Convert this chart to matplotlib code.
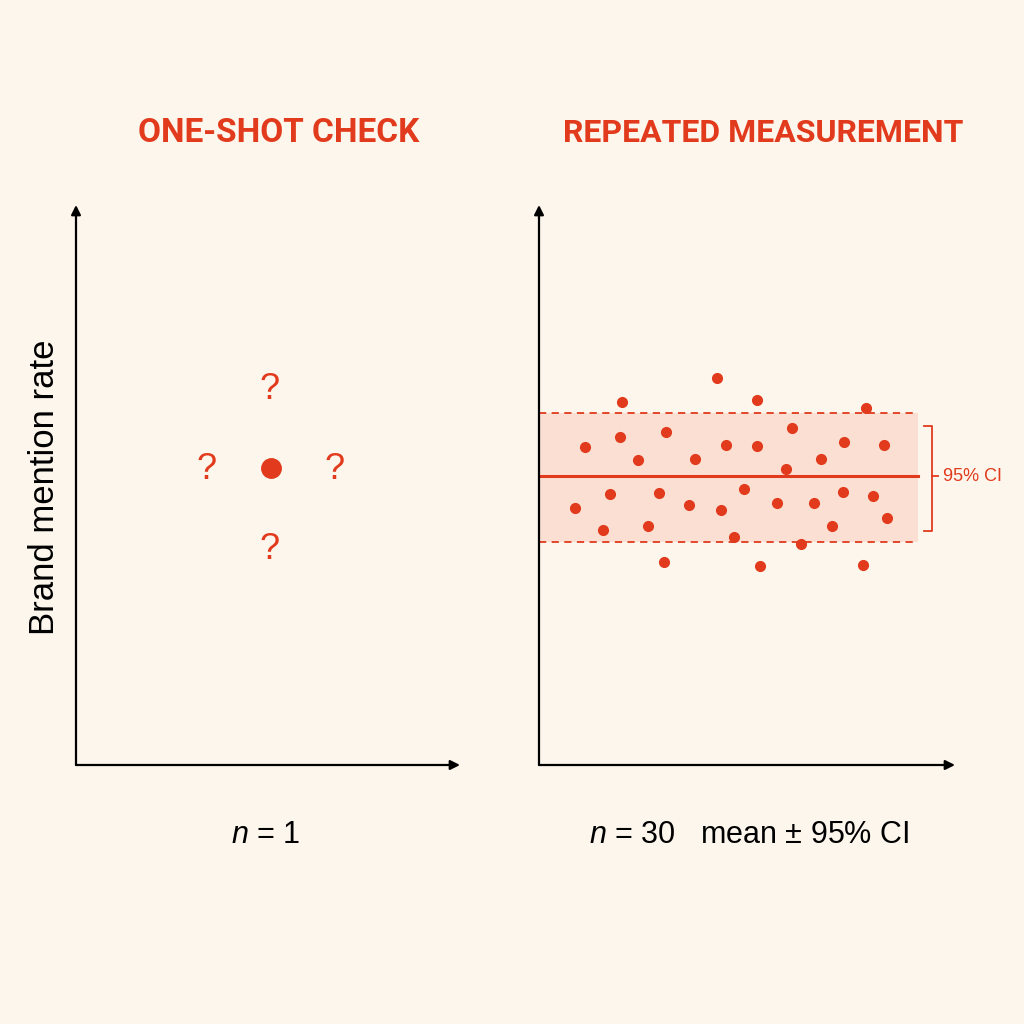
#!/usr/bin/env python3

import matplotlib
matplotlib.use("Agg")
from matplotlib import pyplot as plt

# repeated measurement: trial position (0-100) and brand mention rate (0-100)
rep_x = [42.9, 20.0, 52.5, 78.6, 60.7, 11.1, 19.5, 30.6, 23.9, 37.5, 45.0, 52.3,
         73.3, 83.0, 67.8, 59.4, 17.1, 28.9, 49.3, 73.0, 80.4, 8.6, 36.1, 43.8,
         57.2, 66.0, 83.7, 15.4, 26.3, 46.9, 70.4, 63.1, 30.1, 53.1, 78.0]
rep_y = [69.1, 64.8, 65.2, 63.7, 60.2, 56.7, 58.5, 59.4, 54.5, 54.7, 57.1, 57.0,
         57.6, 57.1, 54.7, 52.8, 48.4, 48.5, 49.2, 48.8, 48.1, 45.9, 46.4, 45.5,
         46.7, 46.8, 44.1, 41.9, 42.6, 40.8, 42.7, 39.4, 36.2, 35.5, 35.7]
mean_rate = 51.6
ci_low = 39.8
ci_high = 62.9

# one-shot check
single_x = [50.8]
single_y = [53.0]
unknown_x = [50.5, 34.1, 67.4, 50.5]
unknown_y = [67.0, 52.7, 52.7, 38.4]

RED = "#E13A1C"
BG = "#FDF6EC"
BAND = "#FBDFD2"
TITLE_FONT = ["Roboto", "DejaVu Sans"]
TEXT_FONT = ["Liberation Sans", "DejaVu Sans"]

plt.rcParams["mathtext.fontset"] = "custom"
plt.rcParams["mathtext.it"] = "Liberation Sans:italic"
plt.rcParams["mathtext.rm"] = "Liberation Sans"


def draw_axes(ax):
    ax.set_xlim(0, 100)
    ax.set_ylim(0, 100)
    ax.axis("off")
    ax.set_facecolor("none")
    arrow = dict(arrowstyle="-|>", color="black", lw=1.6, mutation_scale=14,
                 shrinkA=0, shrinkB=0)
    ax.annotate("", xy=(0, 1), xytext=(0, 0), xycoords="axes fraction",
                arrowprops=arrow)
    ax.annotate("", xy=(1, 0), xytext=(0, 0), xycoords="axes fraction",
                arrowprops=arrow)


def main():
    fig = plt.figure(figsize=(10.24, 10.24), dpi=100, facecolor=BG)

    ax1 = fig.add_axes([76 / 1024, 259 / 1024, 384 / 1024, 560 / 1024])
    ax2 = fig.add_axes([539 / 1024, 259 / 1024, 416 / 1024, 560 / 1024])
    for ax in (ax1, ax2):
        draw_axes(ax)

    # left panel
    ax1.plot(single_x, single_y, "o", color=RED, markersize=14, zorder=3)
    for qx, qy in zip(unknown_x, unknown_y):
        ax1.text(qx, qy, "?", color=RED, fontsize=26, ha="center", va="center",
                 family=TEXT_FONT)

    # right panel
    ax2.fill_between([0, 91.1], ci_low, ci_high, color=BAND, lw=0, zorder=1)
    ax2.plot([0, 91.1], [ci_high, ci_high], "--", color=RED, lw=1.3, dashes=(4, 3), zorder=2)
    ax2.plot([0, 91.1], [ci_low, ci_low], "--", color=RED, lw=1.3, dashes=(4, 3), zorder=2)
    ax2.plot([0, 91.1], [mean_rate, mean_rate], color=RED, lw=2.2, zorder=2)
    ax2.plot(rep_x, rep_y, "o", color=RED, markersize=7, zorder=3)

    # CI bracket
    ax2.plot([92.6, 94.4, 94.4, 92.6], [60.6, 60.6, 41.8, 41.8], color=RED, lw=1.3,
             clip_on=False)
    ax2.plot([94.4, 95.8], [mean_rate, mean_rate], color=RED, lw=1.3, clip_on=False)
    ax2.text(97.0, mean_rate, "95% CI", color=RED, fontsize=13, ha="left",
             va="center", family=TEXT_FONT, clip_on=False)

    # titles and captions
    fig.text(279 / 1024, 1 - 133 / 1024, "ONE-SHOT CHECK", color=RED, fontsize=24,
             fontweight="bold", ha="center", va="center", family=TITLE_FONT)
    fig.text(763 / 1024, 1 - 133 / 1024, "REPEATED MEASUREMENT", color=RED, fontsize=23,
             fontweight="bold", ha="center", va="center", family=TITLE_FONT)
    fig.text(45 / 1024, 1 - 487 / 1024, "Brand mention rate", fontsize=25,
             rotation=90, ha="center", va="center", family=TEXT_FONT)
    fig.text(266 / 1024, 1 - 835 / 1024, r"$n$ = 1", fontsize=22, ha="center",
             va="center", family=TEXT_FONT)
    fig.text(749 / 1024, 1 - 835 / 1024, r"$n$ = 30   mean ± 95% CI", fontsize=22,
             ha="center", va="center", family=TEXT_FONT)

    fig.savefig("out.png", dpi=100, facecolor=BG)


if __name__ == "__main__":
    main()
